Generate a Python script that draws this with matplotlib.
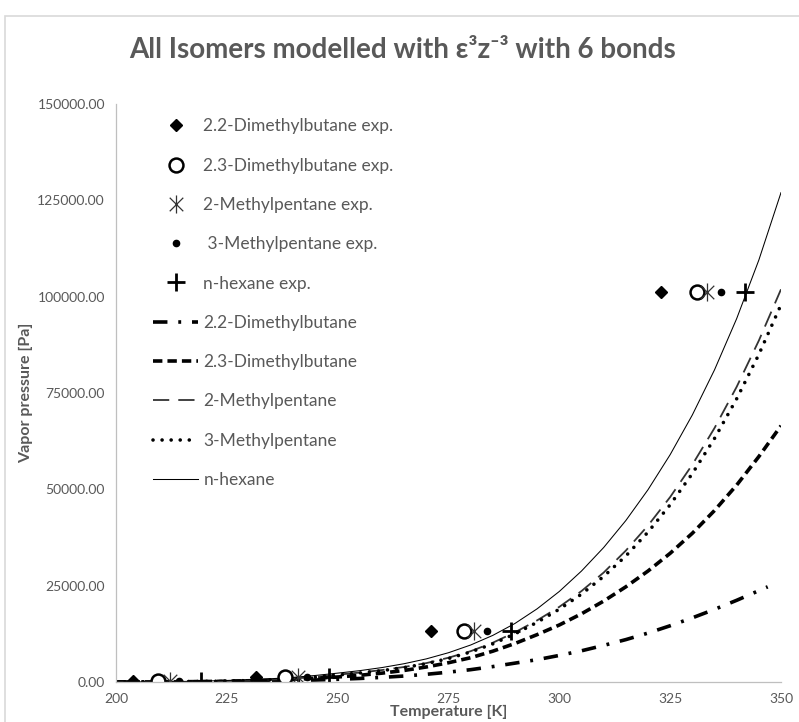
import matplotlib
matplotlib.use("Agg")
import matplotlib.pyplot as plt
from matplotlib.path import Path
from matplotlib.patches import Rectangle

plt.rcParams['font.family'] = ['Lato', 'DejaVu Sans']

# experimental points (T [K], P [Pa])
exp_p = [133.3, 1333.2, 13332.2, 101325.0]
t_22dmb = [203.9, 231.6, 271.1, 322.9]
t_23dmb = [209.5, 238.2, 278.5, 331.1]
t_2mp = [212.2, 241.0, 280.8, 333.4]
t_3mp = [214.1, 243.0, 283.6, 336.4]
t_nhex = [219.2, 248.1, 289.0, 341.9]

# model curves, read every 5 K
t_model = [200, 205, 210, 215, 220, 225, 230, 235, 240, 245, 250, 255, 260, 265, 270, 275,
           280, 285, 290, 295, 300, 305, 310, 315, 320, 325, 330, 335, 340, 345, 350]
t_model_22 = t_model[:-1] + [347]
p_22dmb = [10, 15, 25, 45, 75, 120, 180, 270, 380, 520, 700, 920, 1200, 1550, 2000, 2550,
           3200, 4000, 4900, 5800, 6900, 8100, 9500, 11000, 12700, 14600, 16650, 18850, 21200, 23700, 24700]
p_23dmb = [10, 20, 40, 70, 120, 200, 320, 480, 700, 980, 1300, 1750, 2300, 3000, 3900, 5000,
           6300, 8000, 10000, 12300, 14800, 17700, 21000, 24700, 28800, 33400, 38600, 44500, 51100, 58500, 66500]
p_2mp = [15, 30, 50, 100, 160, 260, 400, 620, 900, 1300, 1900, 2450, 3100, 3900, 4900, 6300,
         8000, 10200, 12900, 16000, 19500, 23600, 28400, 34100, 40600, 48000, 56400, 65900, 76600, 88600, 101900]
p_3mp = [15, 30, 50, 95, 150, 245, 380, 590, 860, 1240, 1800, 2350, 2950, 3750, 4750, 6100,
         7800, 9900, 12500, 15500, 18900, 22800, 27400, 32700, 38900, 46000, 54100, 63200, 73500, 85000, 97900]
p_nhex = [20, 40, 70, 140, 250, 400, 600, 850, 1200, 1700, 2300, 2950, 3750, 4750, 6000, 7600,
          9600, 12100, 15200, 19000, 23500, 28800, 34900, 41900, 49900, 59000, 69300, 81000, 94300, 109500, 127000]

x_ticks = [200, 225, 250, 275, 300, 325, 350]
y_ticks = [0, 25000, 50000, 75000, 100000, 125000, 150000]

grey = '#595959'

star = Path([(0, -1), (0, 1), (-0.75, -0.75), (0.75, 0.75), (-0.75, 0.75), (0.75, -0.75)],
            [Path.MOVETO, Path.LINETO] * 3)

fig = plt.figure(figsize=(7.99, 7.22), dpi=100)
fig.patches.append(Rectangle((5 / 799, -0.01), 1.0, 1 - 16 / 722 + 0.01,
                             transform=fig.transFigure, fill=False,
                             edgecolor='#d9d9d9', linewidth=1.2))
ax = fig.add_axes([116 / 799, 1 - 682 / 722, (781 - 116) / 799, (682 - 104) / 722])

# model lines
l1, = ax.plot(t_model_22, p_22dmb, color='black', lw=2.6,
              dashes=(4, 3, 0.8, 3), label='2.2-Dimethylbutane')
l2, = ax.plot(t_model, p_23dmb, color='black', lw=2.6, dashes=(2.6, 1.4),
              label='2.3-Dimethylbutane')
l3, = ax.plot(t_model, p_2mp, color='#333333', lw=1.3, dashes=(9, 5),
              label='2-Methylpentane')
l4, = ax.plot(t_model, p_3mp, color='black', lw=2.6, dashes=(0.01, 2.5),
              dash_capstyle='round', label='3-Methylpentane')
l5, = ax.plot(t_model, p_nhex, color='black', lw=0.75, label='n-hexane')

# experimental points
m1, = ax.plot(t_22dmb, exp_p, ls='none', marker='D', ms=6, color='black',
              label='2.2-Dimethylbutane exp.')
m2, = ax.plot(t_23dmb, exp_p, ls='none', marker='o', ms=10, mfc='white',
              mec='black', mew=1.8, label='2.3-Dimethylbutane exp.')
m3, = ax.plot(t_2mp, exp_p, ls='none', marker=star, ms=13, mec='#333333',
              mew=0.9, label='2-Methylpentane exp.')
m4, = ax.plot(t_3mp, exp_p, ls='none', marker='o', ms=4.5, color='black',
              label=' 3-Methylpentane exp.')
m5, = ax.plot(t_nhex, exp_p, ls='none', marker='+', ms=13, mew=2,
              color='black', label='n-hexane exp.')

ax.set_xlim(200, 350)
ax.set_ylim(0, 150000)
ax.set_xticks(x_ticks)
ax.set_yticks(y_ticks)
ax.set_yticklabels([f'{v:.2f}' for v in y_ticks])
ax.tick_params(length=0, labelsize=10, colors=grey, pad=8)
for s in ['top', 'right']:
    ax.spines[s].set_visible(False)
for s in ['left', 'bottom']:
    ax.spines[s].set_color('#bfbfbf')
    ax.spines[s].set_linewidth(0.9)

ax.set_xlabel('Temperature [K]', fontsize=11.5, fontweight='bold', color=grey, labelpad=0)
ax.set_ylabel('Vapor pressure [Pa]', fontsize=11.5, fontweight='bold', color=grey, labelpad=3)

fig.text(403 / 799, 1 - 50 / 722, 'All Isomers modelled with ε³z⁻³ with 6 bonds',
         ha='center', va='center', fontsize=20, fontweight='bold', color=grey)

leg = ax.legend(handles=[m1, m2, m3, m4, m5, l1, l2, l3, l4, l5],
                loc='upper left', bbox_to_anchor=(153 / 799, 1 - 118.5 / 722),
                bbox_transform=fig.transFigure, frameon=False, fontsize=12.5,
                labelspacing=1.34, handlelength=2.6, handletextpad=0.3,
                borderpad=0, borderaxespad=0)
for t in leg.get_texts():
    t.set_color(grey)

fig.savefig('out.png', dpi=100)
